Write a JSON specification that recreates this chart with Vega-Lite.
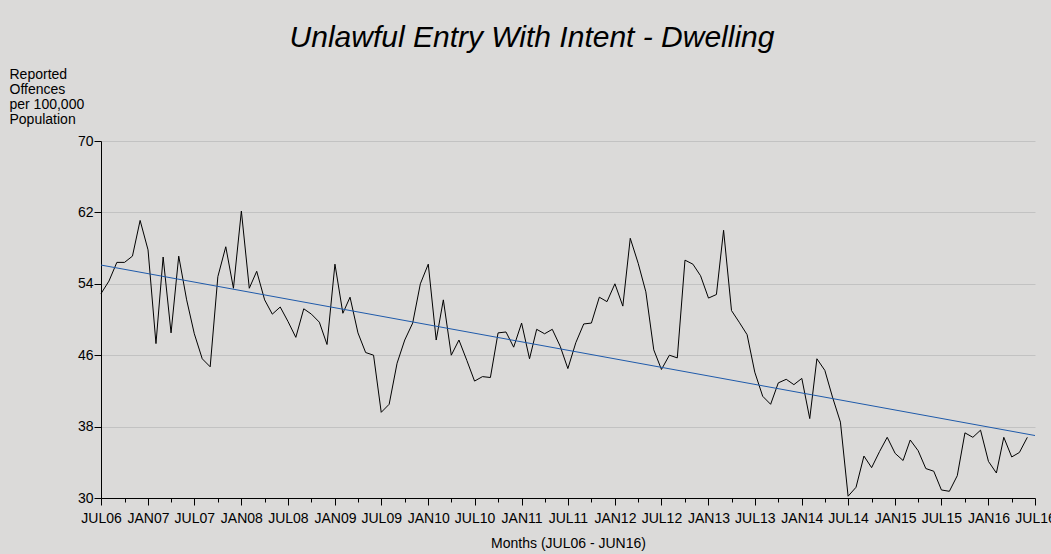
{
  "$schema": "https://vega.github.io/schema/vega-lite/v6.json",
  "width": 934,
  "height": 357,
  "autosize": {"type": "none"},
  "padding": {"left": 101, "top": 141, "right": 16, "bottom": 56},
  "background": "#dbdad9",
  "title": {
    "text": "Unlawful Entry With Intent - Dwelling",
    "font": "Liberation Sans",
    "fontSize": 30,
    "fontStyle": "italic",
    "fontWeight": "normal",
    "color": "#000000",
    "anchor": "middle",
    "baseline": "alphabetic",
    "dx": -36,
    "offset": -10
  },
  "config": {
    "view": {"stroke": null},
    "font": "Liberation Sans",
    "axis": {
      "domainColor": "#000000",
      "tickColor": "#000000",
      "labelColor": "#000000",
      "titleColor": "#000000",
      "labelFont": "Liberation Sans",
      "titleFont": "Liberation Sans",
      "labelFontSize": 14,
      "titleFontSize": 14,
      "titleFontWeight": "normal"
    }
  },
  "datasets": {
    "crime": [
      {"month": "2006-07-01", "rate": 52.9},
      {"month": "2006-08-01", "rate": 54.3},
      {"month": "2006-09-01", "rate": 56.4},
      {"month": "2006-10-01", "rate": 56.4},
      {"month": "2006-11-01", "rate": 57.1},
      {"month": "2006-12-01", "rate": 61.1},
      {"month": "2007-01-01", "rate": 57.8},
      {"month": "2007-02-01", "rate": 47.3},
      {"month": "2007-03-01", "rate": 57.0},
      {"month": "2007-04-01", "rate": 48.5},
      {"month": "2007-05-01", "rate": 57.1},
      {"month": "2007-06-01", "rate": 52.2},
      {"month": "2007-07-01", "rate": 48.4},
      {"month": "2007-08-01", "rate": 45.6},
      {"month": "2007-09-01", "rate": 44.7},
      {"month": "2007-10-01", "rate": 54.8},
      {"month": "2007-11-01", "rate": 58.15},
      {"month": "2007-12-01", "rate": 53.5},
      {"month": "2008-01-01", "rate": 62.15},
      {"month": "2008-02-01", "rate": 53.5},
      {"month": "2008-03-01", "rate": 55.4},
      {"month": "2008-04-01", "rate": 52.2},
      {"month": "2008-05-01", "rate": 50.6},
      {"month": "2008-06-01", "rate": 51.4},
      {"month": "2008-07-01", "rate": 49.8},
      {"month": "2008-08-01", "rate": 48.0},
      {"month": "2008-09-01", "rate": 51.2},
      {"month": "2008-10-01", "rate": 50.6},
      {"month": "2008-11-01", "rate": 49.7},
      {"month": "2008-12-01", "rate": 47.2},
      {"month": "2009-01-01", "rate": 56.2},
      {"month": "2009-02-01", "rate": 50.7},
      {"month": "2009-03-01", "rate": 52.5},
      {"month": "2009-04-01", "rate": 48.5},
      {"month": "2009-05-01", "rate": 46.3},
      {"month": "2009-06-01", "rate": 46.0},
      {"month": "2009-07-01", "rate": 39.6},
      {"month": "2009-08-01", "rate": 40.5},
      {"month": "2009-09-01", "rate": 45.1},
      {"month": "2009-10-01", "rate": 47.7},
      {"month": "2009-11-01", "rate": 49.6},
      {"month": "2009-12-01", "rate": 54.0},
      {"month": "2010-01-01", "rate": 56.2},
      {"month": "2010-02-01", "rate": 47.7},
      {"month": "2010-03-01", "rate": 52.2},
      {"month": "2010-04-01", "rate": 46.0},
      {"month": "2010-05-01", "rate": 47.7},
      {"month": "2010-06-01", "rate": 45.4},
      {"month": "2010-07-01", "rate": 43.1},
      {"month": "2010-08-01", "rate": 43.6},
      {"month": "2010-09-01", "rate": 43.5},
      {"month": "2010-10-01", "rate": 48.5},
      {"month": "2010-11-01", "rate": 48.6},
      {"month": "2010-12-01", "rate": 46.9},
      {"month": "2011-01-01", "rate": 49.6},
      {"month": "2011-02-01", "rate": 45.6},
      {"month": "2011-03-01", "rate": 48.9},
      {"month": "2011-04-01", "rate": 48.4},
      {"month": "2011-05-01", "rate": 48.9},
      {"month": "2011-06-01", "rate": 47.0},
      {"month": "2011-07-01", "rate": 44.5},
      {"month": "2011-08-01", "rate": 47.4},
      {"month": "2011-09-01", "rate": 49.5},
      {"month": "2011-10-01", "rate": 49.6},
      {"month": "2011-11-01", "rate": 52.5},
      {"month": "2011-12-01", "rate": 52.0},
      {"month": "2012-01-01", "rate": 54.0},
      {"month": "2012-02-01", "rate": 51.5},
      {"month": "2012-03-01", "rate": 59.1},
      {"month": "2012-04-01", "rate": 56.3},
      {"month": "2012-05-01", "rate": 53.1},
      {"month": "2012-06-01", "rate": 46.6},
      {"month": "2012-07-01", "rate": 44.4},
      {"month": "2012-08-01", "rate": 46.0},
      {"month": "2012-09-01", "rate": 45.7},
      {"month": "2012-10-01", "rate": 56.65},
      {"month": "2012-11-01", "rate": 56.2},
      {"month": "2012-12-01", "rate": 54.9},
      {"month": "2013-01-01", "rate": 52.4},
      {"month": "2013-02-01", "rate": 52.8},
      {"month": "2013-03-01", "rate": 60.0},
      {"month": "2013-04-01", "rate": 51.0},
      {"month": "2013-05-01", "rate": 49.7},
      {"month": "2013-06-01", "rate": 48.3},
      {"month": "2013-07-01", "rate": 44.1},
      {"month": "2013-08-01", "rate": 41.4},
      {"month": "2013-09-01", "rate": 40.5},
      {"month": "2013-10-01", "rate": 42.9},
      {"month": "2013-11-01", "rate": 43.3},
      {"month": "2013-12-01", "rate": 42.7},
      {"month": "2014-01-01", "rate": 43.4},
      {"month": "2014-02-01", "rate": 38.9},
      {"month": "2014-03-01", "rate": 45.6},
      {"month": "2014-04-01", "rate": 44.3},
      {"month": "2014-05-01", "rate": 41.3},
      {"month": "2014-06-01", "rate": 38.5},
      {"month": "2014-07-01", "rate": 30.2},
      {"month": "2014-08-01", "rate": 31.2},
      {"month": "2014-09-01", "rate": 34.7},
      {"month": "2014-10-01", "rate": 33.4},
      {"month": "2014-11-01", "rate": 35.2},
      {"month": "2014-12-01", "rate": 36.8},
      {"month": "2015-01-01", "rate": 35.0},
      {"month": "2015-02-01", "rate": 34.2},
      {"month": "2015-03-01", "rate": 36.5},
      {"month": "2015-04-01", "rate": 35.3},
      {"month": "2015-05-01", "rate": 33.3},
      {"month": "2015-06-01", "rate": 33.0},
      {"month": "2015-07-01", "rate": 30.9},
      {"month": "2015-08-01", "rate": 30.75},
      {"month": "2015-09-01", "rate": 32.5},
      {"month": "2015-10-01", "rate": 37.3},
      {"month": "2015-11-01", "rate": 36.8},
      {"month": "2015-12-01", "rate": 37.6},
      {"month": "2016-01-01", "rate": 34.1},
      {"month": "2016-02-01", "rate": 32.8},
      {"month": "2016-03-01", "rate": 36.8},
      {"month": "2016-04-01", "rate": 34.6},
      {"month": "2016-05-01", "rate": 35.1},
      {"month": "2016-06-01", "rate": 36.8}
    ],
    "trend": [
      {"month": "2006-07-01", "rate": 56.1},
      {"month": "2016-07-01", "rate": 37.0}
    ]
  },
  "encoding": {
    "x": {
      "field": "month",
      "type": "temporal",
      "scale": {
        "type": "utc",
        "domain": [
          {"year": 2006, "month": 7, "date": 1, "utc": true},
          {"year": 2016, "month": 7, "date": 1, "utc": true}
        ],
        "nice": false
      },
      "axis": {
        "title": "Months (JUL06 - JUN16)",
        "titlePadding": 11,
        "grid": false,
        "tickCount": {"interval": "month", "step": 3},
        "tickSize": {"condition": {"test": "utcmonth(datum.value) % 6 == 0", "value": 7}, "value": 4},
        "labelExpr": "utcmonth(datum.value) % 6 == 0 ? upper(utcFormat(datum.value, '%b%y')) : ''",
        "labelFlush": false,
        "labelOverlap": false,
        "labelBound": false,
        "labelPadding": 6,
        "domainWidth": 1
      }
    },
    "y": {
      "field": "rate",
      "type": "quantitative",
      "scale": {"domain": [30, 70], "nice": false, "zero": false},
      "axis": {
        "values": [30, 38, 46, 54, 62, 70],
        "title": ["Reported", "Offences", "per 100,000", "Population"],
        "titleAngle": 0,
        "titleAlign": "left",
        "titleBaseline": "top",
        "titleX": -92,
        "titleY": -74,
        "titleLineHeight": 15,
        "grid": true,
        "gridColor": "#c2c2c2",
        "gridWidth": 1,
        "tickSize": 7,
        "labelPadding": 1
      }
    }
  },
  "layer": [
    {
      "data": {"name": "crime"},
      "mark": {"type": "line", "color": "#000000", "strokeWidth": 1}
    },
    {
      "data": {"name": "trend"},
      "mark": {"type": "line", "color": "#1f5aaa", "strokeWidth": 1}
    }
  ]
}
